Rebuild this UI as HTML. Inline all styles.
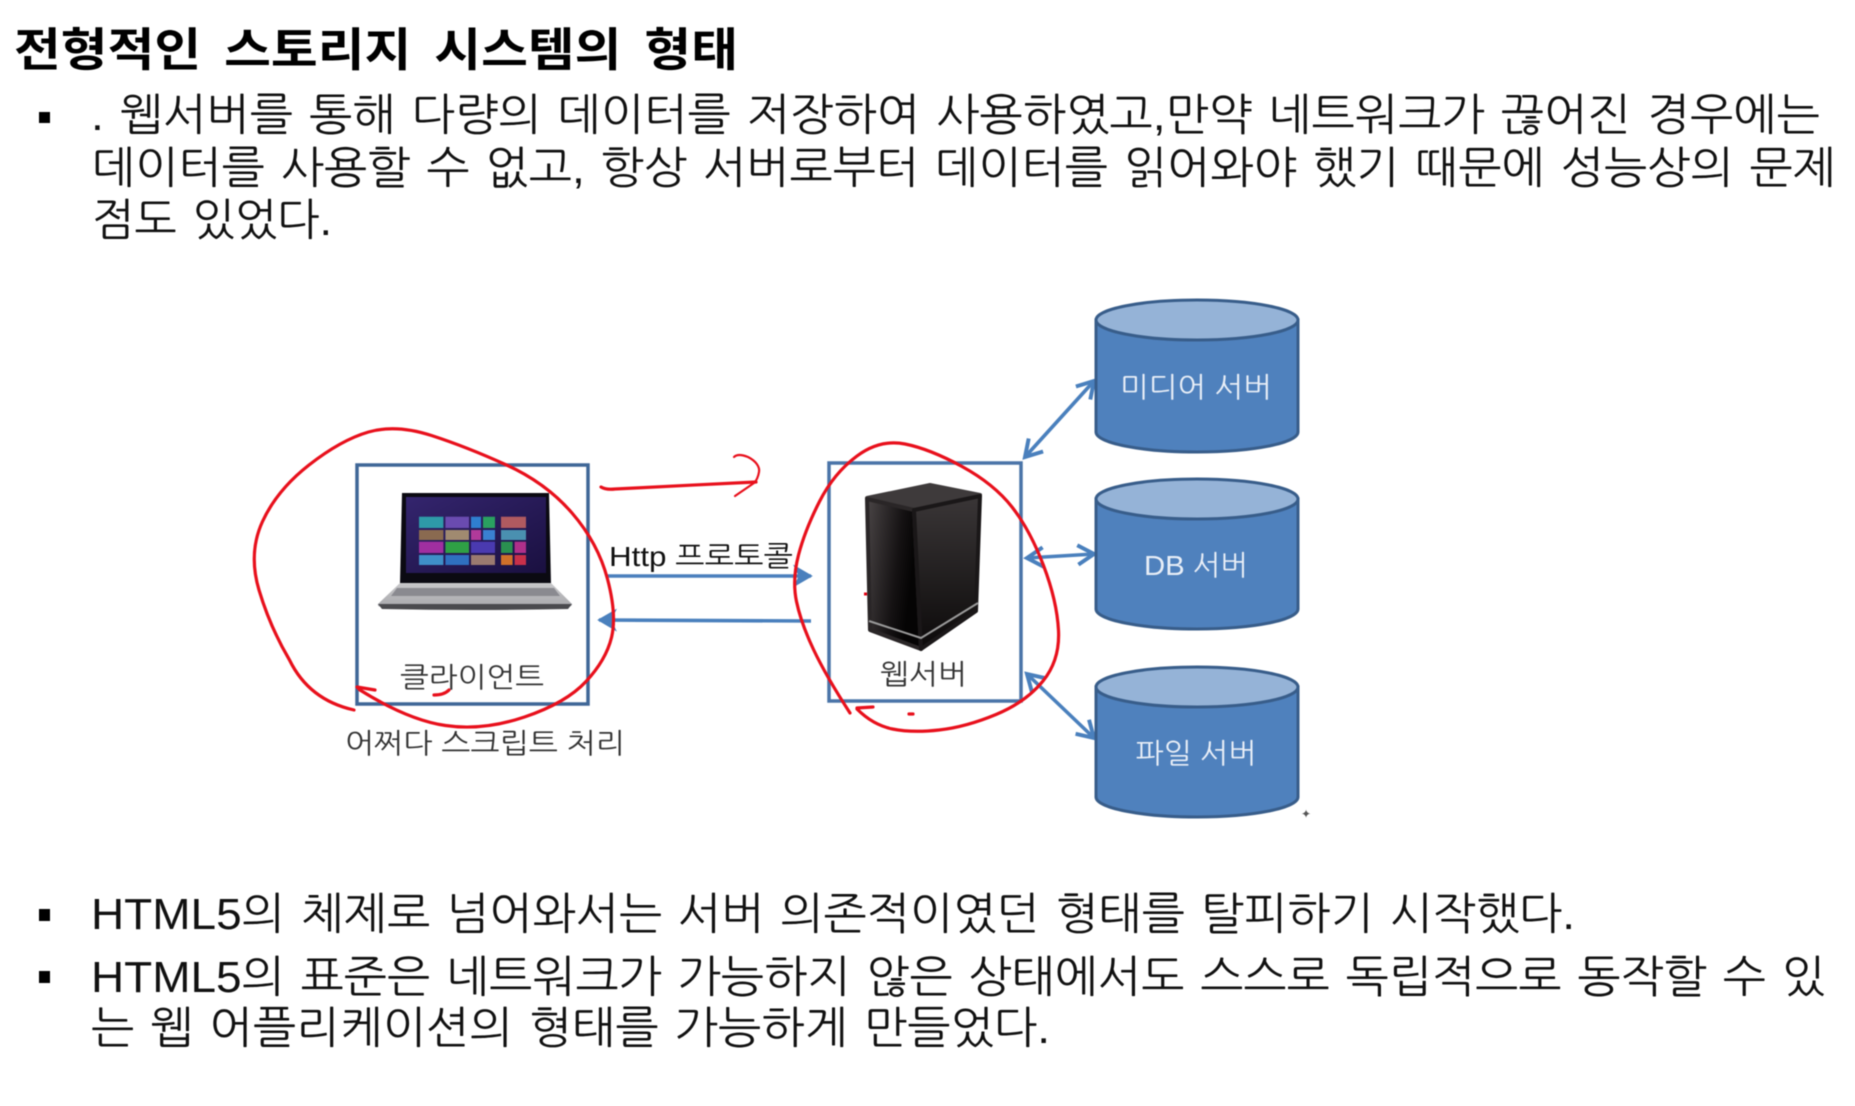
<!DOCTYPE html>
<html lang="ko"><head><meta charset="utf-8"><title>전형적인 스토리지 시스템의 형태</title>
<style>
html,body{margin:0;padding:0;background:#fff;width:1855px;height:1106px;overflow:hidden}
svg{display:block;filter:blur(.6px)}
text{font-family:"Liberation Sans","NanumGothic","Noto Sans CJK KR",sans-serif;white-space:pre}
.t{font-size:44px;fill:#111;word-spacing:3px}
.h{font-size:46px;font-weight:bold;fill:#000;word-spacing:8px;font-family:"Liberation Sans","Noto Sans CJK KR",sans-serif}
.w{font-size:28px;fill:#e8eef7;text-anchor:middle}
.k{font-size:28px;fill:#333}
.red{fill:none;stroke:#e8101c;stroke-width:3.2;stroke-linecap:round;stroke-linejoin:round}
.bl{fill:none;stroke:#4a80bd;stroke-width:3.6}
.cb{fill:#4f81bd;stroke:#385d8a;stroke-width:3}
.ct{fill:#95b3d7;stroke:#385d8a;stroke-width:3}
</style></head><body>
<svg width="1855" height="1106" viewBox="0 0 1855 1106" xmlns="http://www.w3.org/2000/svg">
<rect width="1855" height="1106" fill="#fff"/>
<defs>
<marker id="a" markerWidth="7" markerHeight="7" refX="5" refY="3.5" orient="auto-start-reverse" markerUnits="strokeWidth"><path d="M0,0.3L5.5,3.5L0,6.7L1.6,3.5Z" fill="#4a80bd"/></marker>
<marker id="o" markerWidth="7" markerHeight="7" refX="5.5" refY="3.5" orient="auto-start-reverse" markerUnits="strokeWidth"><path d="M1,0.8L5.5,3.5L1,6.2" fill="none" stroke="#4a80bd" stroke-width="1.1"/></marker>
<linearGradient id="sf" x1="0" x2="0.9" y1="0" y2="0.3"><stop offset="0" stop-color="#4a4546"/><stop offset=".7" stop-color="#151213"/><stop offset="1" stop-color="#050404"/></linearGradient>
<linearGradient id="sr" x1="0" x2="0" y1="0" y2="1"><stop offset="0" stop-color="#3a3637"/><stop offset="1" stop-color="#0c0a0a"/></linearGradient>
<linearGradient id="kb" x1="0" x2="0" y1="0" y2="1"><stop offset="0" stop-color="#c8c8ca"/><stop offset="1" stop-color="#a8a8ac"/></linearGradient>
<linearGradient id="scr" x1="0" x2="1" y1="0" y2="1"><stop offset="0" stop-color="#34256e"/><stop offset="1" stop-color="#1a1040"/></linearGradient>
</defs>

<text class="h" x="14" y="66" textLength="724" lengthAdjust="spacingAndGlyphs">전형적인 스토리지 시스템의 형태</text>

<rect x="39" y="112" width="11" height="11" fill="#000"/>
<text class="t" x="91" y="130" textLength="1729" lengthAdjust="spacingAndGlyphs">. 웹서버를 통해 다량의 데이터를 저장하여 사용하였고,만약 네트워크가 끊어진 경우에는</text>
<text class="t" x="92" y="183" textLength="1744" lengthAdjust="spacingAndGlyphs">데이터를 사용할 수 없고, 항상 서버로부터 데이터를 읽어와야 했기 때문에 성능상의 문제</text>
<text class="t" x="92" y="235" textLength="240" lengthAdjust="spacingAndGlyphs">점도 있었다.</text>

<rect x="39" y="909" width="11" height="12" fill="#000"/>
<text class="t" x="91" y="929" textLength="1484" lengthAdjust="spacingAndGlyphs">HTML5의 체제로 넘어와서는 서버 의존적이였던 형태를 탈피하기 시작했다.</text>
<rect x="39" y="971" width="11" height="12" fill="#000"/>
<text class="t" x="91" y="992" textLength="1734" lengthAdjust="spacingAndGlyphs">HTML5의 표준은 네트워크가 가능하지 않은 상태에서도 스스로 독립적으로 동작할 수 있</text>
<text class="t" x="91" y="1043" textLength="959" lengthAdjust="spacingAndGlyphs">는 웹 어플리케이션의 형태를 가능하게 만들었다.</text>

<!-- boxes -->
<rect x="357" y="465" width="231" height="239" fill="none" stroke="#3f6797" stroke-width="3.5"/>
<rect x="829" y="463" width="192" height="238" fill="none" stroke="#4a74a8" stroke-width="3.5"/>

<!-- laptop -->
<path d="M402,493H549L551,584H400Z" fill="#0b0a12"/>
<rect x="406" y="497" width="140" height="76" fill="url(#scr)"/>
<g>
<rect x="419" y="516.7" width="24.4" height="11.3" fill="#2e9aa8"/>
<rect x="445.4" y="516.7" width="23.6" height="11.3" fill="#6a4bb0"/>
<rect x="471" y="516.7" width="10" height="11.3" fill="#2f7fd0"/>
<rect x="483" y="516.7" width="12" height="11.3" fill="#2aa060"/>
<rect x="419" y="530" width="24.4" height="10" fill="#8a6a50"/>
<rect x="445.4" y="530" width="23.6" height="10" fill="#a08a70"/>
<rect x="471" y="530" width="10" height="10" fill="#b03a9a"/>
<rect x="483" y="530" width="12" height="10" fill="#3a80d0"/>
<rect x="419" y="541.7" width="24.4" height="11.3" fill="#a02fa0"/>
<rect x="445.4" y="541.7" width="23.6" height="11.3" fill="#2fa045"/>
<rect x="471" y="541.7" width="24" height="11.3" fill="#4a3ab0"/>
<rect x="419" y="555" width="24.4" height="10" fill="#3f8fc8"/>
<rect x="445.4" y="555" width="23.6" height="10" fill="#2f70c0"/>
<rect x="471" y="555" width="24" height="10" fill="#9a7a70"/>
<rect x="501" y="516.7" width="25" height="11.3" fill="#b05a60"/>
<rect x="501" y="530" width="25" height="10" fill="#4a90b0"/>
<rect x="501" y="541.7" width="11.6" height="11.3" fill="#2a9050"/>
<rect x="514.6" y="541.7" width="11.4" height="11.3" fill="#b0308a"/>
<rect x="501" y="555" width="11.6" height="10" fill="#d0702a"/>
<rect x="514.6" y="555" width="11.4" height="10" fill="#c8304a"/>
</g>
<path d="M400,583H551L572,604Q572,607 566,607H384Q377,607 378,604Z" fill="url(#kb)"/>
<path d="M397,588H554L560,596H391Z" fill="#8a8a90"/>
<path d="M378,604H572L568,609Q475,611 382,609Z" fill="#4a4a4e"/>

<!-- server -->
<g stroke-linejoin="round" stroke-width="4">
<path d="M867,498L930,485L980,495L914,509Z" fill="#3e3a3b" stroke="#3e3a3b"/>
<path d="M867,499L914,510L921,649L870,630Z" fill="url(#sf)" stroke="#2a2627"/>
<path d="M914,510L980,496L976,611L921,649Z" fill="url(#sr)" stroke="#1a1718"/>
</g>
<path d="M869,621L921,638L978,603" fill="none" stroke="#9a9a9a" stroke-width="2"/>
<rect x="864" y="592.5" width="3" height="3" fill="#e00010"/>

<!-- http arrows -->
<path class="bl" d="M607,576H811" marker-end="url(#a)"/>
<path class="bl" d="M811,621L599,620" marker-end="url(#a)"/>

<!-- double arrows -->
<path class="bl" d="M1025,457L1094,381" marker-start="url(#o)" marker-end="url(#o)"/>
<path class="bl" d="M1027,558L1094,554" marker-start="url(#o)" marker-end="url(#o)"/>
<path class="bl" d="M1027,674L1094,738" marker-start="url(#o)" marker-end="url(#o)"/>

<!-- cylinders -->
<g>
<path class="cb" d="M1096,320V432A101,20 0 0 0 1298,432V320Z"/><ellipse class="ct" cx="1197" cy="320" rx="101" ry="20"/>
<path class="cb" d="M1096,499V609A101,20 0 0 0 1298,609V499Z"/><ellipse class="ct" cx="1197" cy="499" rx="101" ry="20"/>
<path class="cb" d="M1096,687V797A101,20 0 0 0 1298,797V687Z"/><ellipse class="ct" cx="1197" cy="687" rx="101" ry="20"/>
</g>
<text class="w" x="1196" y="397" textLength="152" lengthAdjust="spacingAndGlyphs">미디어 서버</text>
<text class="w" x="1196" y="575" textLength="104" lengthAdjust="spacingAndGlyphs">DB 서버</text>
<text class="w" x="1196" y="763" textLength="121" lengthAdjust="spacingAndGlyphs">파일 서버</text>

<!-- labels -->
<text class="k" x="609" y="566" textLength="184" lengthAdjust="spacingAndGlyphs" style="fill:#111">Http 프로토콜</text>
<text class="k" x="400" y="687" textLength="144" lengthAdjust="spacingAndGlyphs">클라이언트</text>
<text class="k" x="880" y="684" textLength="87" lengthAdjust="spacingAndGlyphs">웹서버</text>
<text class="k" x="345" y="753" textLength="280" lengthAdjust="spacingAndGlyphs">어쩌다 스크립트 처리</text>

<!-- red ink -->
<path class="red" d="M354,710Q309,700 289.5,660Q270,627 259,590Q248,553 262.5,521.5Q277,490 309,465Q341,440 368.5,432Q396,424 431.5,435.5Q467,447 506.5,465Q546,483 572,513Q598,543 607.5,579Q617,615 611.5,637.5Q606,660 586,681.5Q566,703 524.5,717Q483,731 445.5,725.5Q408,720 360,690"/>
<path class="red" d="M360,690L357,687L375,690"/>
<path class="red" d="M434,695Q444,695 449,690"/>
<path class="red" d="M601,487Q606,490 615,489C660,487 710,484 756,482"/>
<path class="red" style="stroke-width:2.2" d="M734,457Q738,453 748,457C756,461 760,467 759,472C758,478 756,481 754,483L735,496"/>
<path class="red" d="M850,713Q826,676 813.5,649.5Q801,623 796.5,601.5Q792,580 798.5,555Q805,530 819.5,501.5Q834,473 857,456Q880,439 905,444Q930,449 962,466.5Q994,484 1012,507Q1030,530 1043.5,565.5Q1057,601 1058.5,630.5Q1060,660 1043,681Q1026,702 996,714.5Q966,727 939,730Q912,733 892.5,729Q873,725 857,709"/>
<path class="red" d="M857,708L873,707"/>
<path class="red" d="M909,714H913"/>
<text x="1306" y="818" font-size="12" fill="#555" text-anchor="middle">✦</text>
</svg>
</body></html>
